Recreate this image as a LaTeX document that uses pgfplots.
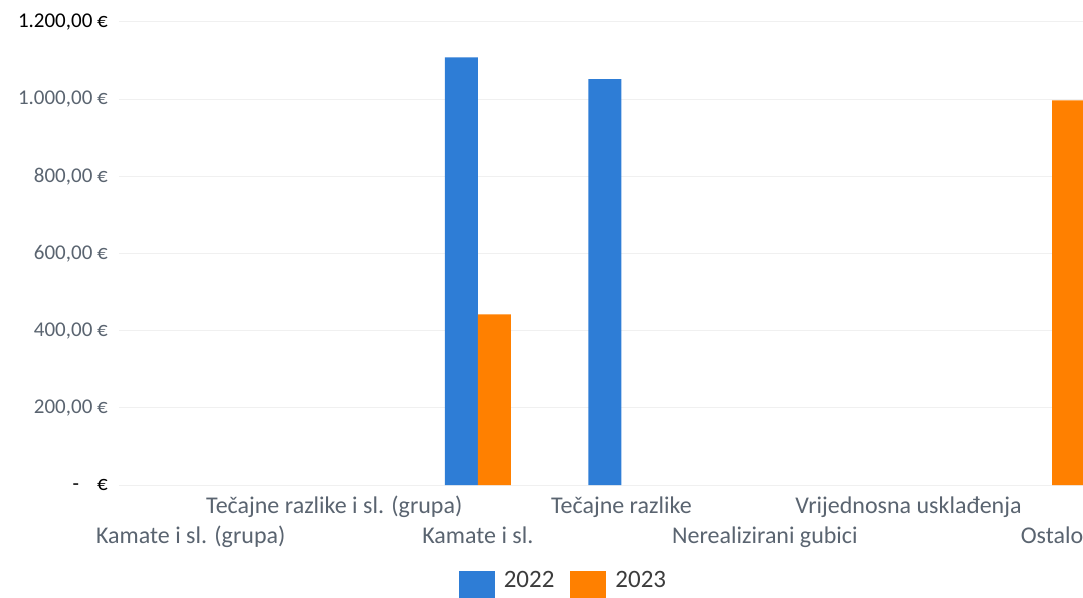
\documentclass[border=0pt]{standalone}
\usepackage{pgfplots}
\pgfplotsset{compat=1.18}
\usepackage{fontspec}
\setmainfont{Carlito}
\definecolor{cblue}{RGB}{46,125,214}
\definecolor{corange}{RGB}{255,128,0}
\definecolor{ctext}{RGB}{90,100,112}
\definecolor{clegtext}{RGB}{60,60,60}
\definecolor{cgrid}{RGB}{240,240,240}
\begin{document}
\begin{tikzpicture}[x=1pt,y=1pt]
\useasboundingbox (0,0) rectangle (1083,597);
\clip (0,0) rectangle (1083,597);
\begin{axis}[
 at={(119pt,112pt)}, anchor=south west,
 scale only axis, width=964pt, height=463pt,
 ybar=0pt, bar width=33pt,
 enlargelimits=false,
 xmin=-0.5, xmax=6.216, ymin=0, ymax=1200,
 xtick={0,1,2,3,4,5,6},
 xticklabels={
  \raisebox{-30pt}{Kamate i sl. (grupa)},
  Tečajne razlike i sl. (grupa),
  \raisebox{-30pt}{Kamate i sl.},
  Tečajne razlike,
  \raisebox{-30pt}{Nerealizirani gubici},
  Vrijednosna usklađenja,
  \raisebox{-30pt}{Ostalo}},
 ytick={0,200,400,600,800,1000,1200},
 yticklabels={
  \textcolor{black}{-\hspace{18pt}€},
  {200,00 €},{400,00 €},{600,00 €},{800,00 €},{1.000,00 €},
  \textcolor{black}{1.200,00 €}},
 axis line style={draw=none},
 major tick length=0pt,
 ymajorgrids, major grid style={draw=cgrid, line width=1pt},
 xticklabel style={font=\fontsize{24}{30}\selectfont, text=ctext, anchor=base, inner sep=0pt, yshift=-28pt},
 yticklabel style={font=\fontsize{21}{25}\selectfont, text=ctext, anchor=east, inner sep=0pt, xshift=-11pt},
 legend style={at={(0.460,-0.186)}, anchor=north, draw=none, fill=none, inner sep=0pt,
   legend columns=2, font=\fontsize{25}{30}\selectfont, text=clegtext,
   nodes={inner sep=0pt},
   /tikz/every odd column/.append style={column sep=9pt},
   /tikz/every even column/.append style={column sep=16pt}},
 legend image code/.code={\fill[#1] (0pt,-10pt) rectangle (36pt,26pt);},
]
\addplot[fill=cblue, draw=none] coordinates {(2,1108) (3,1052)};
\addplot[fill=corange, draw=none] coordinates {(2,442) (6,997)};
\legend{\raisebox{9pt}[0pt][0pt]{2022},\raisebox{9pt}[0pt][0pt]{2023}}
\end{axis}
\end{tikzpicture}
\end{document}
